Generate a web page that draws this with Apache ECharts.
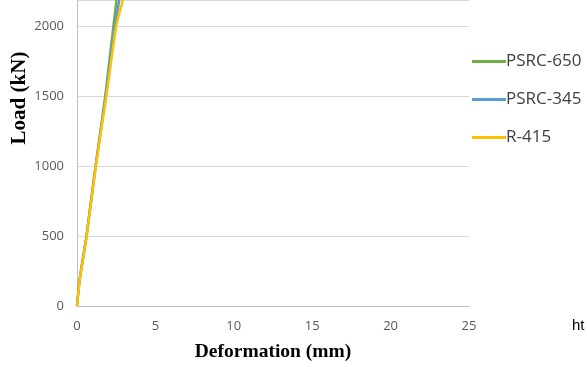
<!DOCTYPE html>
<html><head><meta charset="utf-8">
<script src="https://cdn.jsdelivr.net/npm/echarts@6/dist/echarts.min.js"></script>
<style>html,body{margin:0;padding:0;background:#fff}#c{width:587px;height:367px}</style>
</head><body><div id="c"></div>
<script>
const seriesNames = ['PSRC-650', 'PSRC-345', 'R-415'];
const psrc650 = [[0,0],[0.17,190],[0.6,500],[1.18,1000],[1.8,1500],[2.32,2000],[2.52,2190]];
const psrc345 = [[0,0],[0.17,190],[0.61,500],[1.19,1000],[1.83,1500],[2.41,2000],[2.7,2190]];
const r415 = [[0,0],[0.18,190],[0.62,500],[1.2,1000],[1.87,1500],[2.5,2000],[2.93,2190]];
const xTicks = [0,5,10,15,20,25];
const yTicks = [0,500,1000,1500,2000];
const yMax = 2190;
const colors = ['#70AD47','#5B9BD5','#FFC000'];
const chart = echarts.init(document.getElementById('c'));
const mk = (name, data, i) => ({
  name, type:'line', data, smooth:0.2, symbol:'none',
  lineStyle:{width:2.5, color:colors[i]}, itemStyle:{color:colors[i]}, z: 2+i
});
chart.setOption({
  animation:false,
  grid:{left:77, right:118, top:0, bottom:60, containLabel:false},
  xAxis:{type:'value', min:xTicks[0], max:xTicks[xTicks.length-1], interval:5,
    axisLine:{show:true, lineStyle:{color:'#BFBFBF', width:1}}, axisTick:{show:false},
    splitLine:{show:false},
    axisLabel:{color:'#595959', fontSize:13, fontFamily:'Open Sans', margin:14},
    name:'Deformation (mm)', nameLocation:'middle', nameGap:36,
    nameTextStyle:{fontFamily:'Liberation Serif', fontWeight:'bold', fontSize:19.5, color:'#000'}},
  yAxis:{type:'value', min:yTicks[0], max:yMax, interval:500,
    axisLine:{show:true, lineStyle:{color:'#BFBFBF', width:1}}, axisTick:{show:false},
    splitLine:{show:true, lineStyle:{color:'#D9D9D9', width:1}},
    axisLabel:{color:'#595959', fontSize:13, fontFamily:'Open Sans', margin:13, showMaxLabel:false,
      formatter: v => yTicks.includes(v) ? String(v) : ''}},
  legend:{orient:'vertical', left:472, top:53, padding:0, itemGap:21, itemWidth:34, itemHeight:3, icon:'rect',
    textStyle:{color:'#404040', fontSize:17, fontFamily:'Open Sans', padding:[0,0,0,-5]},
    data:seriesNames},
  graphic:[
    {type:'text', left:572, top:318, style:{text:'ht', fill:'#000', fontSize:15, fontFamily:'Liberation Sans'}},
    {type:'text', x:20, y:98, rotation:Math.PI/2, style:{text:'Load (kN)', fill:'#000', fontSize:21, fontWeight:'bold', fontFamily:'Liberation Serif', align:'center', verticalAlign:'middle'}}
  ],
  series:[mk(seriesNames[0], psrc650, 0), mk(seriesNames[1], psrc345, 1), mk(seriesNames[2], r415, 2)]
});
</script></body></html>
